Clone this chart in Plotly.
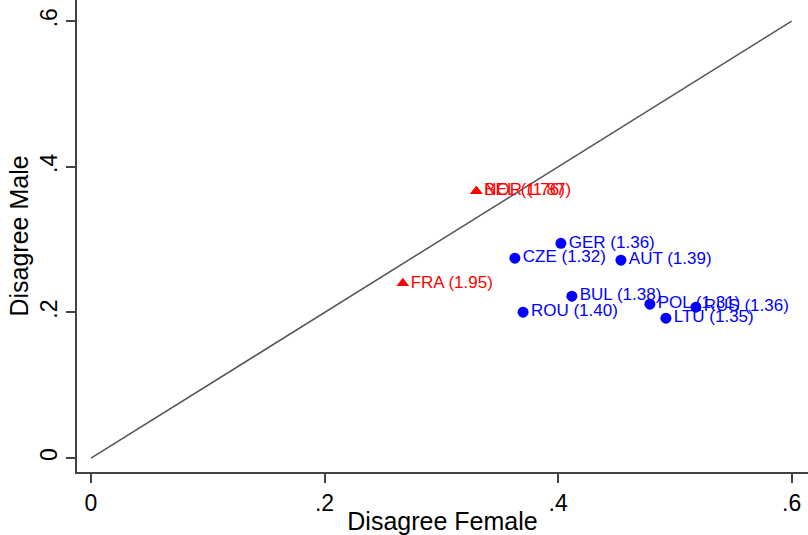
import plotly.graph_objects as go

# Share disagreeing, by sex, with mean score in brackets
west_countries = ["NOR", "BEL", "FRA"]
west_female = [0.330, 0.330, 0.267]
west_male = [0.3665, 0.3665, 0.240]
west_score = ["1.87", "1.76", "1.95"]

east_countries = ["GER", "CZE", "AUT", "BUL", "ROU", "POL", "RUS", "LTU"]
east_female = [0.4024, 0.363, 0.4538, 0.4118, 0.370, 0.4786, 0.518, 0.4923]
east_male = [0.295, 0.2745, 0.2718, 0.2224, 0.2004, 0.2114, 0.2073, 0.1922]
east_score = ["1.36", "1.32", "1.39", "1.38", "1.40", "1.31", "1.36", "1.35"]

diag = [0, 0.6]
tick_vals = [0, 0.2, 0.4, 0.6]
tick_text = ["0", ".2", ".4", ".6"]

font_family = "Liberation Sans, Arial, sans-serif"
axis_color = "#444444"

fig = go.Figure()

fig.add_trace(go.Scatter(
    x=diag, y=diag, mode="lines",
    line=dict(color="#555555", width=1.5),
    hoverinfo="skip", showlegend=False,
))

fig.add_trace(go.Scatter(
    x=west_female, y=west_male, mode="markers+text",
    marker=dict(symbol="triangle-up", size=11, color="#ff0000"),
    text=[f"{c} ({s})" for c, s in zip(west_countries, west_score)],
    textposition="middle right",
    textfont=dict(family=font_family, size=17, color="#ff0000"),
    showlegend=False,
))

fig.add_trace(go.Scatter(
    x=east_female, y=east_male, mode="markers+text",
    marker=dict(symbol="circle", size=11, color="#0000ff"),
    text=[f"{c} ({s})" for c, s in zip(east_countries, east_score)],
    textposition="middle right",
    textfont=dict(family=font_family, size=17, color="#0000ff"),
    showlegend=False,
))

fig.update_layout(
    width=808, height=535,
    margin=dict(l=77, r=0, t=0, b=63),
    paper_bgcolor="white", plot_bgcolor="white",
    font=dict(family=font_family, color="black"),
    xaxis=dict(
        range=[-0.012, 0.614],
        tickvals=tick_vals, ticktext=tick_text,
        ticks="outside", ticklen=9, tickwidth=1.5, tickcolor=axis_color,
        showline=True, linecolor=axis_color, linewidth=2,
        showgrid=False, zeroline=False,
        tickfont=dict(family=font_family, size=23),
        title=dict(text="Disagree Female", font=dict(family=font_family, size=25), standoff=0),
    ),
    yaxis=dict(
        range=[-0.019, 0.629],
        tickvals=tick_vals, ticktext=tick_text,
        tickangle=-90,
        ticks="outside", ticklen=9, tickwidth=1.5, tickcolor=axis_color,
        showline=True, linecolor=axis_color, linewidth=2,
        showgrid=False, zeroline=False,
        tickfont=dict(family=font_family, size=23),
        title=dict(text="Disagree Male", font=dict(family=font_family, size=25), standoff=0),
    ),
)

fig.write_html("out.html")
